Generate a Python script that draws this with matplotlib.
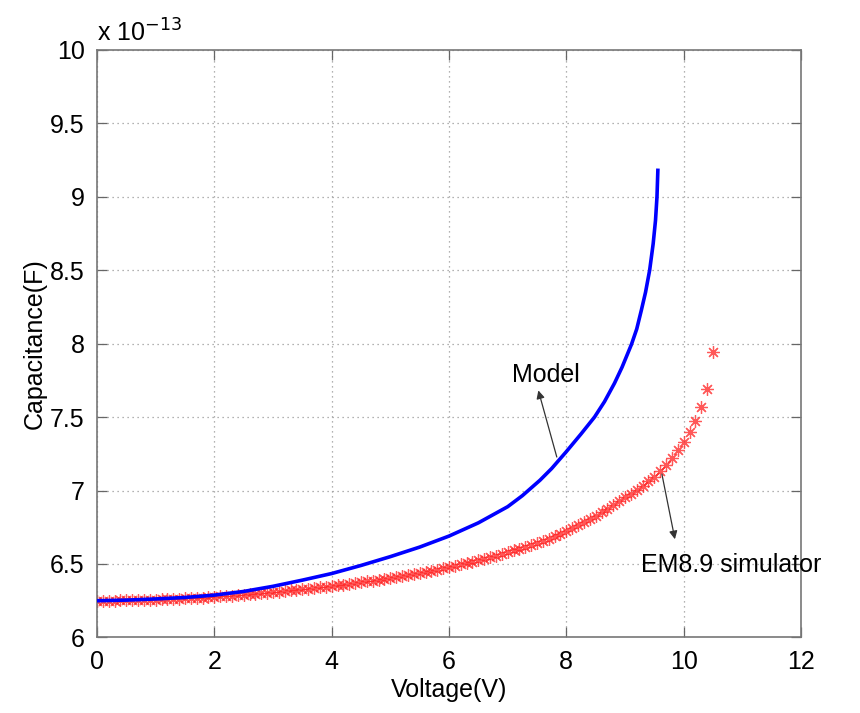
import matplotlib.pyplot as plt
import numpy as np
from matplotlib.ticker import FuncFormatter

plt.rcParams['font.family'] = ['Liberation Sans', 'DejaVu Sans']

# --- Data (capacitance in units of 1e-13 F) ---
model_v = [0.0, 0.5, 1.0, 1.5, 2.0, 2.5, 3.0, 3.5, 4.0, 4.5, 5.0, 5.5, 6.0, 6.5,
           7.0, 7.25, 7.55, 7.75, 8.0, 8.25, 8.48, 8.65, 8.82, 8.95, 9.11, 9.2,
           9.28, 9.35, 9.42, 9.48, 9.52, 9.545, 9.56]
model_c = [6.250, 6.254, 6.262, 6.272, 6.288, 6.313, 6.348, 6.390, 6.435, 6.490,
           6.550, 6.615, 6.690, 6.780, 6.890, 6.965, 7.070, 7.150, 7.265, 7.385,
           7.500, 7.605, 7.730, 7.840, 7.995, 8.100, 8.230, 8.350, 8.500, 8.680,
           8.840, 9.000, 9.180]

sim_v = [round(0.1 * i, 1) for i in range(106)]
sim_c = [6.250, 6.250, 6.251, 6.251, 6.252, 6.253, 6.254, 6.255, 6.256, 6.257,
         6.258, 6.259, 6.260, 6.262, 6.263, 6.265, 6.267, 6.269, 6.271, 6.274,
         6.277, 6.280, 6.282, 6.285, 6.288, 6.291, 6.294, 6.297, 6.301, 6.304,
         6.308, 6.312, 6.316, 6.320, 6.324, 6.328, 6.332, 6.337, 6.341, 6.346,
         6.350, 6.355, 6.360, 6.365, 6.370, 6.375, 6.381, 6.387, 6.393, 6.399,
         6.405, 6.411, 6.417, 6.424, 6.431, 6.438, 6.445, 6.453, 6.461, 6.470,
         6.480, 6.489, 6.498, 6.507, 6.516, 6.526, 6.536, 6.546, 6.557, 6.568,
         6.580, 6.592, 6.604, 6.617, 6.630, 6.644, 6.658, 6.673, 6.689, 6.707,
         6.725, 6.744, 6.763, 6.783, 6.805, 6.830, 6.853, 6.876, 6.901, 6.927,
         6.955, 6.979, 7.005, 7.033, 7.063, 7.095, 7.130, 7.174, 7.220, 7.277,
         7.333, 7.397, 7.476, 7.567, 7.694, 7.942]

x_ticks = [0, 2, 4, 6, 8, 10, 12]
y_ticks = [6, 6.5, 7, 7.5, 8, 8.5, 9, 9.5, 10]

# --- Figure ---
fig = plt.figure(figsize=(8.6, 7.13), dpi=100)
ax = fig.add_axes([0.1128, 0.106, 0.8186, 0.824])

ax.plot(model_v, model_c, color='#0000ff', linewidth=2.6, zorder=3)
ax.plot(sim_v, sim_c, linestyle='none', marker=(8, 2, 0), markersize=9,
        markeredgewidth=0.9, color='#ff2020', alpha=0.75, zorder=2)

ax.set_xlim(0, 12)
ax.set_ylim(6, 10)
ax.set_xticks(x_ticks)
ax.set_yticks(y_ticks)
ax.yaxis.set_major_formatter(FuncFormatter(lambda v, p: '%g' % v))
ax.grid(True, linestyle=(0, (1, 3)), color='#999999', linewidth=0.9)

ax.tick_params(direction='in', length=7, width=0.9, color='#666666',
               labelsize=18, top=True, right=True, pad=9)
for s in ax.spines.values():
    s.set_color('#777777')
    s.set_linewidth(1.2)

ax.set_xlabel('Voltage(V)', fontsize=18, labelpad=3)
ax.set_ylabel('Capacitance(F)', fontsize=18, labelpad=2)
ax.text(0, 1.005, r'x 10$^{-13}$', transform=ax.transAxes, fontsize=18,
        ha='left', va='bottom')

# --- Annotations ---
ax.annotate('', xy=(7.51, 7.70), xytext=(7.85, 7.21),
            arrowprops=dict(arrowstyle='-|>', color='#333333', lw=0.9,
                            mutation_scale=12))
ax.text(7.07, 7.79, 'Model', fontsize=18, ha='left', va='center')

ax.annotate('', xy=(9.86, 6.65), xytext=(9.62, 7.13),
            arrowprops=dict(arrowstyle='-|>', color='#333333', lw=0.9,
                            mutation_scale=12))
ax.text(9.28, 6.49, 'EM8.9 simulator', fontsize=18, ha='left', va='center')

fig.savefig('out.png', dpi=100)
